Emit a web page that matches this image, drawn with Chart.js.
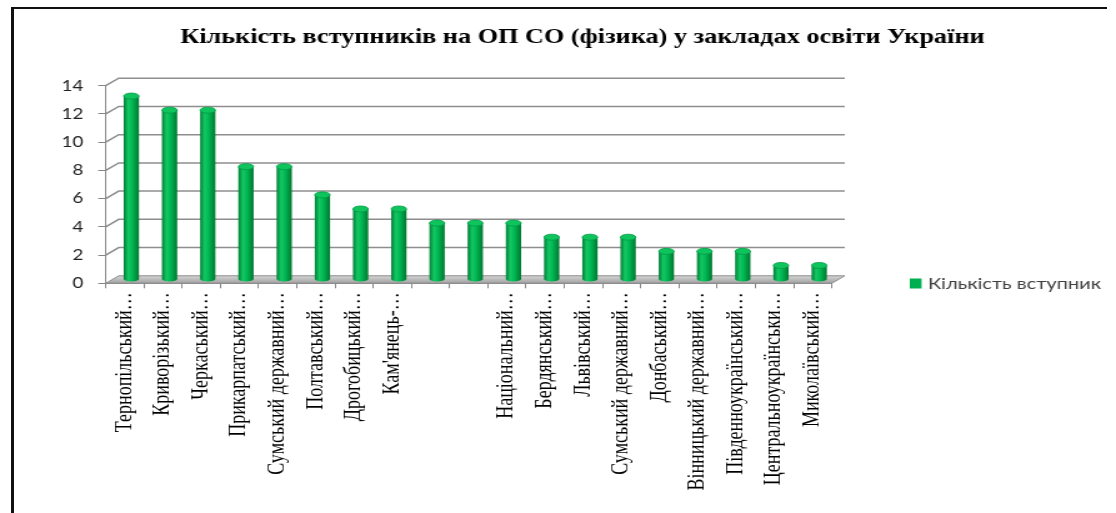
<!DOCTYPE html>
<html>
<head>
<meta charset="utf-8">
<script src="https://cdn.jsdelivr.net/npm/chart.js@4.4.0/dist/chart.umd.min.js"></script>
<style>
  html, body { margin: 0; padding: 0; background: #fff; }
  #wrap { position: relative; width: 1116px; height: 513px; overflow: hidden; }
  #frame { position: absolute; left: 11px; top: 7px; width: 1093px; height: 520px;
           border-left: 3px solid #111; border-top: 2px solid #111; }
  #my-chart { position: absolute; left: 0; top: 0; }
</style>
</head>
<body>
<div id="wrap">
  <div id="frame"></div>
  <!-- the original picture is stretched sideways, so the canvas is too -->
  <canvas id="my-chart" width="893" height="513" style="width:1116px;height:513px"></canvas>
</div>
<script>
const titleText = "Кількість вступників на ОП СО (фізика) у закладах освіти України";
const seriesName = "Кількість вступник";

const labels = [
  "Тернопільський…", "Криворізький…", "Черкаський…", "Прикарпатський…",
  "Сумський державний…", "Полтавський…", "Дрогобицький…", "Кам'янець-…",
  "", "", "Національний…", "Бердянський…", "Львівський…",
  "Сумський державний…", "Донбаський…", "Вінницький державний…",
  "Південноукраїнський…", "Центральноукраїнськи…", "Миколаївський…"
];
const values = [13, 12, 12, 8, 8, 6, 5, 5, 4, 4, 4, 3, 3, 3, 2, 2, 2, 1, 1];
const yMin = 0, yMax = 14, yStep = 2;

const barGreen = "#00b050";
// depth of the 3d box (canvas px)
const depthX = 10.4, depthY = -7.5;
const barPct = 0.4;

function cylinderFill(c) {
  const chart = c.chart;
  if (!chart.chartArea) return barGreen;
  const xs = chart.scales.x;
  const x = xs.getPixelForValue(c.dataIndex);
  const half = xs.width / labels.length * barPct / 2;
  const g = chart.ctx.createLinearGradient(x - half, 0, x + half, 0);
  g.addColorStop(0, "#007d37");
  g.addColorStop(0.3, "#14c862");
  g.addColorStop(0.55, "#00b854");
  g.addColorStop(1, "#00772f");
  return g;
}

const box3d = {
  id: "box3d",
  beforeDatasetsDraw(chart) {
    const { ctx, chartArea: a, scales: { y } } = chart;
    const y0 = y.getPixelForValue(0);
    ctx.save();
    // floor
    const g = ctx.createLinearGradient(0, y0 + depthY, 0, y0);
    g.addColorStop(0, "#d6d6d6");
    g.addColorStop(1, "#a0a0a0");
    ctx.fillStyle = g;
    ctx.beginPath();
    ctx.moveTo(a.left, y0);
    ctx.lineTo(a.right, y0);
    ctx.lineTo(a.right + depthX, y0 + depthY);
    ctx.lineTo(a.left + depthX, y0 + depthY);
    ctx.closePath();
    ctx.fill();
    ctx.strokeStyle = "#8c8c8c";
    ctx.lineWidth = 1;
    ctx.stroke();
    // back wall gridlines
    ctx.strokeStyle = "#8e8e8e";
    ctx.lineWidth = 1.5;
    y.ticks.forEach(t => {
      if (t.value === 0) return;
      const py = y.getPixelForValue(t.value);
      ctx.beginPath();
      ctx.moveTo(a.left, py);
      ctx.lineTo(a.left + depthX, py + depthY);
      ctx.lineTo(a.right + depthX, py + depthY);
      ctx.stroke();
    });
    ctx.restore();
    // bars stand in the middle of the depth
    ctx.save();
    ctx.translate(depthX / 2, depthY / 2);
  },
  afterDatasetsDraw(chart) {
    const ctx = chart.ctx;
    chart.getDatasetMeta(0).data.forEach(bar => {
      const r = bar.width / 2;
      // round bottom
      ctx.beginPath();
      ctx.ellipse(bar.x, bar.base, r, 2.5, 0, 0, Math.PI);
      ctx.fillStyle = bar.options.backgroundColor;
      ctx.fill();
      // top cap
      ctx.beginPath();
      ctx.ellipse(bar.x, bar.y, r, 3, 0, 0, Math.PI * 2);
      ctx.fillStyle = "#0fc45d";
      ctx.fill();
      ctx.strokeStyle = "#009a45";
      ctx.lineWidth = 0.8;
      ctx.stroke();
    });
    ctx.restore();
  },
  afterDraw(chart) {
    const ctx = chart.ctx;
    ctx.save();
    // title
    ctx.font = "bold 21px 'Liberation Serif'";
    ctx.fillStyle = "#000";
    ctx.textAlign = "center";
    ctx.textBaseline = "middle";
    ctx.fillText(titleText, 466, 37.5);
    // legend
    ctx.fillStyle = barGreen;
    ctx.fillRect(728, 278.5, 9.4, 10);
    ctx.font = "16px Lato";
    ctx.fillStyle = "#404040";
    ctx.textAlign = "left";
    ctx.fillText(chart.data.datasets[0].label, 742.4, 284);
    ctx.restore();
  }
};

const ctx = document.getElementById("my-chart").getContext("2d");
const myChart = new Chart(ctx, {
  type: "bar",
  data: {
    labels,
    datasets: [
      {
        label: seriesName,
        data: values,
        backgroundColor: cylinderFill,
        borderWidth: 0,
        barPercentage: barPct,
        categoryPercentage: 1
      }
    ]
  },
  options: {
    responsive: false,
    animation: false,
    layout: { padding: { top: 85.7, right: 893 - 665.6, left: 0, bottom: 0 } },
    plugins: { legend: { display: false }, tooltip: { enabled: false } },
    scales: {
      x: {
        grid: { drawOnChartArea: false, tickLength: 5, color: "#868686" },
        border: { color: "#868686" },
        ticks: {
          autoSkip: false, minRotation: 90, maxRotation: 90, padding: 4,
          color: "#000", font: { family: "'Liberation Serif'", size: 18 }
        },
        afterFit: s => { s.height = 513 - 283.3; }
      },
      y: {
        min: yMin,
        max: yMax,
        grid: { drawOnChartArea: false, tickLength: 6, color: "#868686" },
        border: { color: "#868686" },
        ticks: { stepSize: yStep, padding: 12, color: "#222", font: { family: "Lato", size: 15 } },
        afterFit: s => { s.width = 84.6; }
      }
    }
  },
  plugins: [box3d]
});
</script>
</body>
</html>
